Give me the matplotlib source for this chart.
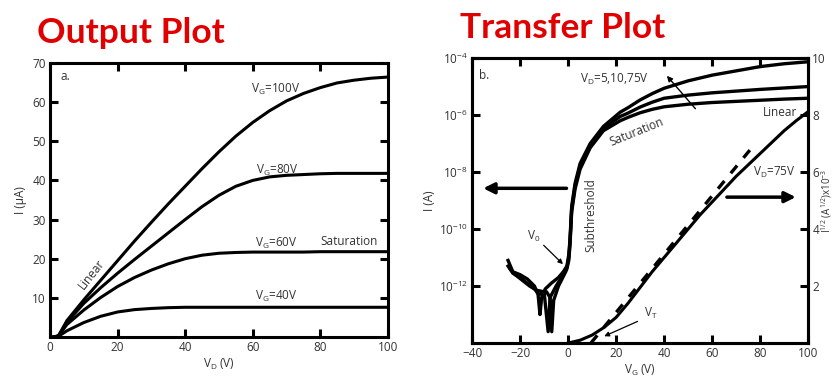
import matplotlib.pyplot as plt
import numpy as np

plt.rcParams['font.family'] = ['Open Sans', 'DejaVu Sans']
plt.rcParams['mathtext.default'] = 'regular'

# ---- output plot (I vs VD) ----
vd = [1, 2.5, 5, 10, 15, 20, 25, 30, 35, 40, 45, 50, 55, 60, 65, 70, 75, 80, 85, 90, 95, 100]
i_vg100 = [0, 0.3, 4.2, 9.5, 14.5, 19.5, 24.5, 29.3, 34.0, 38.5, 43.0, 47.3, 51.3, 54.8,
           57.8, 60.3, 62.2, 63.7, 64.9, 65.6, 66.1, 66.4]
i_vg80 = [0, 0.3, 3.8, 8.6, 12.6, 16.3, 19.8, 23.2, 26.6, 30.0, 33.3, 36.2, 38.5, 40.0,
          40.9, 41.3, 41.5, 41.7, 41.8, 41.8, 41.8, 41.8]
i_vg60 = [0, 0.3, 3.2, 6.9, 10.1, 12.9, 15.2, 17.1, 18.7, 20.0, 20.9, 21.4, 21.6, 21.7,
          21.7, 21.7, 21.7, 21.8, 21.8, 21.8, 21.8, 21.8]
i_vg40 = [0, 0.2, 1.6, 3.7, 5.3, 6.4, 7.0, 7.3, 7.5, 7.6, 7.6, 7.6, 7.6, 7.6,
          7.6, 7.6, 7.6, 7.6, 7.6, 7.6, 7.6, 7.6]

# ---- transfer plot (log I vs VG) ----
vg_on = [-0.5, 0.3, 0.8, 1.5, 2.9, 5, 9.2, 14.7, 21.7, 25, 30, 35, 40, 50, 60, 70, 80, 90, 100]
log_on_a = [-11.3, -10.9, -10.35, -9.2, -8.4, -7.7, -7.0, -6.4, -5.9, -5.74, -5.47, -5.25,
            -5.06, -4.8, -4.6, -4.45, -4.3, -4.2, -4.13]
log_on_b = [-11.35, -11.0, -10.45, -9.3, -8.5, -7.8, -7.08, -6.47, -6.05, -5.93, -5.72, -5.55,
            -5.41, -5.3, -5.22, -5.16, -5.1, -5.05, -5.0]
log_on_c = [-11.4, -11.1, -10.55, -9.4, -8.6, -7.9, -7.15, -6.55, -6.2, -6.08, -5.92, -5.8,
            -5.71, -5.62, -5.56, -5.52, -5.48, -5.44, -5.41]

vg_off_a = [-25, -23, -20, -17, -14, -12.5, -11.7, -11, -9.5, -7, -4, -2]
log_off_a = [-11.1, -11.5, -11.6, -11.75, -12.0, -12.3, -13.0, -12.4, -12.1, -11.9, -11.7, -11.5]
vg_off_b = [-25, -23, -20, -17, -14, -12, -10, -8.3, -7.5, -5, -2]
log_off_b = [-11.3, -11.55, -11.7, -11.9, -12.1, -12.3, -12.2, -13.6, -12.4, -12.0, -11.6]
vg_off_c = [-24, -22, -19, -16, -13, -10, -9, -7.5, -6.8, -6, -4, -1]
log_off_c = [-11.4, -11.6, -11.8, -12.0, -12.15, -12.2, -12.2, -12.4, -13.6, -12.5, -12.0, -11.5]

# sqrt(I) (x1e-3 A^1/2), VD = 75 V
vg_sq = [0, 5, 10, 15, 20, 25, 30, 35, 40, 45, 50, 55, 60, 65, 70, 75, 80, 85, 90, 95, 100]
sqrt_i = [0, 0.1, 0.28, 0.55, 0.9, 1.4, 1.95, 2.5, 3.0, 3.5, 4.0, 4.5, 4.95, 5.4, 5.85,
          6.25, 6.65, 7.05, 7.45, 7.8, 8.12]
vt_fit_vg = [9.5, 76]
vt_fit_sq = [0, 6.8]

log_ticks = [-12, -10, -8, -6, -4]
log_labels = ['10$^{-12}$', '10$^{-10}$', '10$^{-8}$', '10$^{-6}$', '10$^{-4}$']

tc = '#333333'
fig = plt.figure(figsize=(8.34, 3.77), dpi=100)


def style(ax):
    for s in ax.spines.values():
        s.set_linewidth(2.2)
    ax.tick_params(direction='in', length=6, width=2.2, labelsize=8.5, labelcolor=tc,
                   top=True, right=True, pad=3)


# left plot
ax1 = fig.add_axes([0.060, 0.106, 0.405, 0.727])
for y in [i_vg100, i_vg80, i_vg60, i_vg40]:
    ax1.plot(vd, y, color='black', lw=2.2)
ax1.set_xlim(0, 100)
ax1.set_ylim(0, 70)
ax1.set_xticks([0, 20, 40, 60, 80, 100])
ax1.set_yticks([10, 20, 30, 40, 50, 60, 70])
style(ax1)
ax1.set_xlabel('V$_D$ (V)', fontsize=8.5, color=tc, labelpad=2)
ax1.set_ylabel('I (\u03bcA)', fontsize=8.5, color=tc, labelpad=4)
lab = dict(fontsize=8.5, color=tc, va='center')
ax1.text(59.4, 63.3, 'V$_G$=100V', **lab)
ax1.text(61, 42.6, 'V$_G$=80V', **lab)
ax1.text(60.7, 24.0, 'V$_G$=60V', **lab)
ax1.text(80, 24.3, 'Saturation', **lab)
ax1.text(60.7, 10.4, 'V$_G$=40V', **lab)
ax1.text(12.4, 16.1, 'Linear', rotation=52, ha='center', **lab)
ax1.text(3, 66.5, 'a.', **lab)

# right plot
ax2 = fig.add_axes([0.566, 0.090, 0.403, 0.756])
ax2.set_yscale('log')
for vx, lo, von, ln in [(vg_off_a, log_off_a, vg_on, log_on_a),
                        (vg_off_b, log_off_b, vg_on, log_on_b),
                        (vg_off_c, log_off_c, vg_on, log_on_c)]:
    ax2.plot(vx + von, 10.0 ** np.array(lo + ln), color='black', lw=2.4)
ax2.set_xlim(-40, 100)
ax2.set_ylim(1e-14, 1e-4)
ax2.set_xticks([-40, -20, 0, 20, 40, 60, 80, 100])
ax2.set_yticks([10.0 ** t for t in log_ticks])
ax2.set_yticklabels(log_labels)
ax2.minorticks_off()
style(ax2)
ax2.tick_params(right=False)
ax2.set_xlabel('V$_G$ (V)', fontsize=8.5, color=tc, labelpad=2)
ax2.set_ylabel('I (A)', fontsize=8.5, color=tc, labelpad=2)

ax2r = ax2.twinx()
ax2r.plot(vg_sq, sqrt_i, color='black', lw=2.2)
ax2r.plot(vt_fit_vg, vt_fit_sq, color='black', lw=2.4, dashes=(3, 3))
ax2r.set_ylim(0, 10)
ax2r.set_yticks([2, 4, 6, 8, 10])
style(ax2r)
ax2r.tick_params(top=False, left=False)
ax2r.set_ylabel('I$^{1/2}$ (A$^{1/2}$)x10$^{-3}$', fontsize=7, color=tc)
ax2r.yaxis.set_label_coords(1.032, 0.5)

ax2.text(-37, 10 ** -4.6, 'b.', **lab)
ax2.text(5, 10 ** -4.75, 'V$_D$=5,10,75V', **lab)
ax2.annotate('', xy=(40.4, 10 ** -4.55), xytext=(53.8, 10 ** -5.85),
             arrowprops=dict(arrowstyle='-|>', color='black', lw=1.0, mutation_scale=8))
ax2.text(28.7, 10 ** -6.6, 'Saturation', rotation=22, ha='center', **lab)
ax2.text(95.5, 10 ** -5.9, 'Linear', ha='right', **lab)
ax2.text(9.3, 10 ** -9.5, 'Subthreshold', rotation=90, ha='center', **lab)
ax2.text(-14.2, 10 ** -10.25, 'V$_0$', ha='center', **lab)
ax2.annotate('', xy=(-1.3, 10 ** -11.3), xytext=(-11, 10 ** -10.5),
             arrowprops=dict(arrowstyle='-|>', color='black', lw=0.9, mutation_scale=7))
ax2.annotate('', xy=(-36.5, 10 ** -8.57), xytext=(0.5, 10 ** -8.57),
             arrowprops=dict(arrowstyle='-|>', color='black', lw=2.5, mutation_scale=16))
ax2.annotate('', xy=(96, 10 ** -8.88), xytext=(65, 10 ** -8.88),
             arrowprops=dict(arrowstyle='-|>', color='black', lw=2.5, mutation_scale=16))
ax2r.text(85.8, 6.0, 'V$_D$=75V', ha='center', **lab)
ax2r.text(34.3, 1.05, 'V$_T$', ha='center', **lab)
ax2r.annotate('', xy=(14, 0.2), xytext=(30, 0.8),
              arrowprops=dict(arrowstyle='-|>', color='black', lw=0.9, mutation_scale=7))

# titles
fig.text(0.044, 0.886, 'Output Plot', color='#e00000', fontsize=25.5, fontweight='bold',
         family=['Lato', 'DejaVu Sans'])
fig.text(0.552, 0.899, 'Transfer Plot', color='#e00000', fontsize=25.5, fontweight='bold',
         family=['Lato', 'DejaVu Sans'])

plt.savefig('out.png', dpi=100)
